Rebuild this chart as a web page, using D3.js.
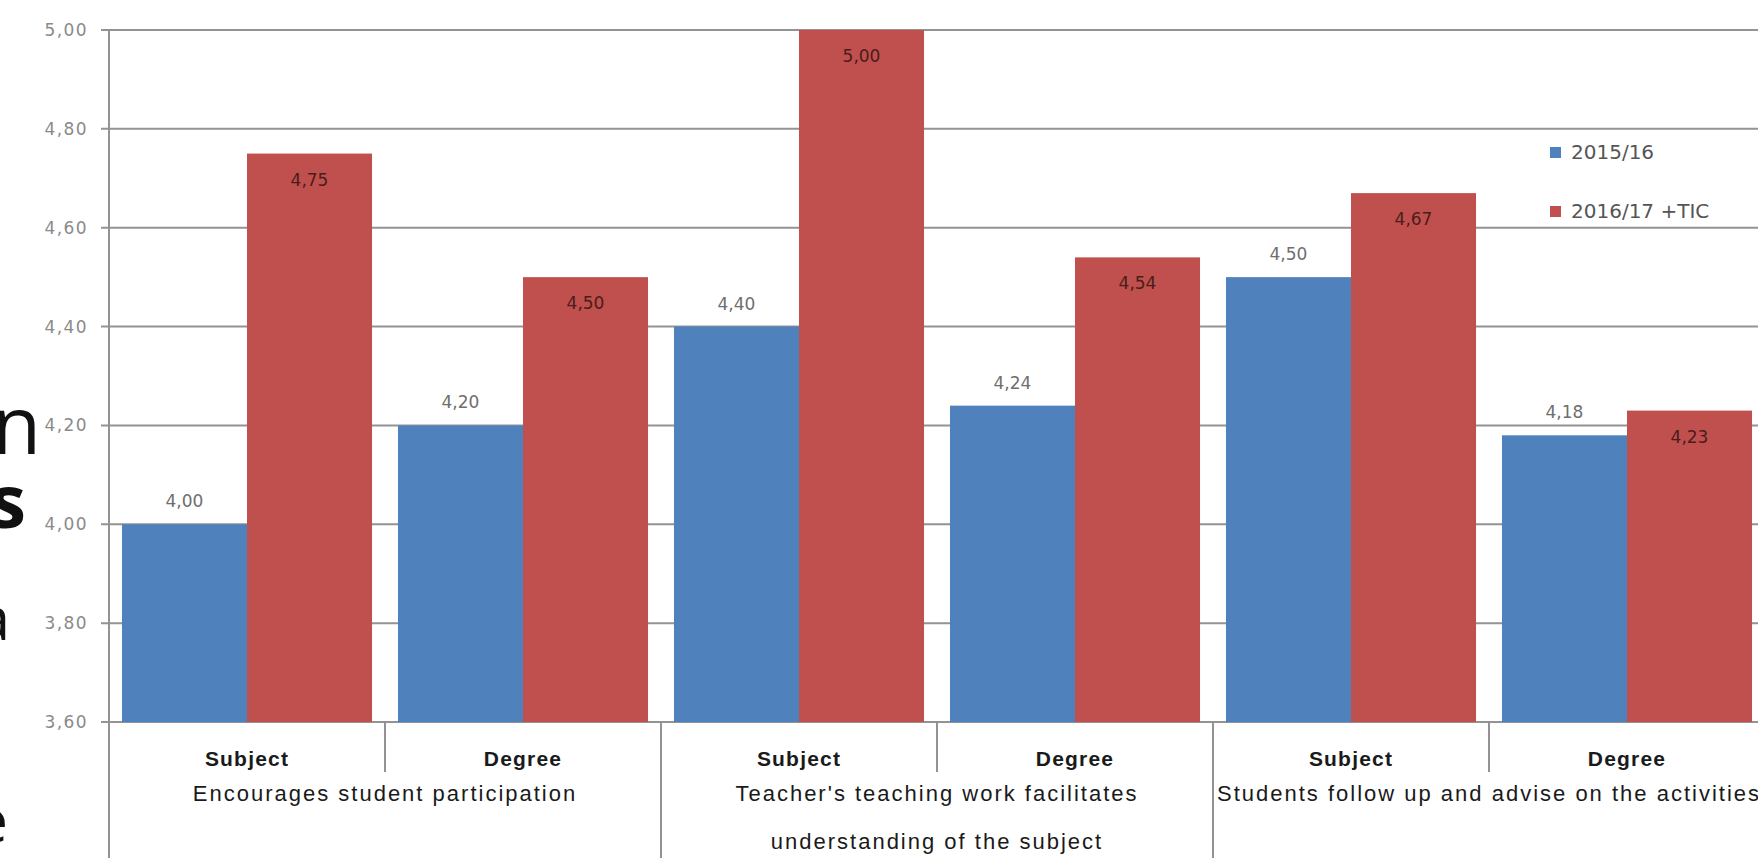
<!DOCTYPE html>
<html>
<head>
<meta charset="utf-8">
<script src="https://cdn.jsdelivr.net/npm/d3@7"></script>
<style>
  html, body { margin: 0; padding: 0; background: #fff; overflow: hidden; }
  svg { display: block; }
</style>
</head>
<body>
<svg id="chart" width="1758" height="858"></svg>
<script>
// ---------- data ----------
const groupLabels = [
  ["Encourages student participation"],
  ["Teacher's teaching work facilitates", "understanding of the subject"],
  ["Students follow up and advise on the activities"]
];
const subLabels = ["Subject", "Degree", "Subject", "Degree", "Subject", "Degree"];
const seriesNames = ["2015/16", "2016/17 +TIC"];
const values1516 = [4.00, 4.20, 4.40, 4.24, 4.50, 4.18];
const values1617 = [4.75, 4.50, 5.00, 4.54, 4.67, 4.23];
const yTicks = [3.6, 3.8, 4.0, 4.2, 4.4, 4.6, 4.8, 5.0];
const sideLetters = ["n", "s", "a", "e"];

// ---------- setup ----------
const W = 1758, H = 858;
const svg = d3.select("#chart");
svg.append("rect").attr("width", W).attr("height", H).attr("fill", "#fff");

const axisX = 109;
const y = d3.scaleLinear().domain([3.6, 5.0]).range([722, 30]);
const idx = d3.range(subLabels.length);
const x0 = d3.scaleBand().domain(idx).range([axisX, axisX + 276 * 6])
  .paddingInner(0.094).paddingOuter(0.047);
const x1 = d3.scaleBand().domain(seriesNames).range([0, x0.bandwidth()]);
const colors = d3.scaleOrdinal().domain(seriesNames).range(["#4f81bd", "#c0504d"]);
const step = x0.step();
const fmt = v => d3.format(".2f")(v).replace(".", ",");

// side text fragments (cropped slide text at the left edge)
const sideY = [454, 528, 640, 842];
const sideX = [41, 26, 10, 8];
const sideSize = [80, 74, 60, 60];
svg.append("g").selectAll("text").data(sideLetters).join("text")
  .attr("x", (d, i) => sideX[i]).attr("y", (d, i) => sideY[i])
  .attr("text-anchor", "end")
  .attr("font-family", "Open Sans, sans-serif")
  .attr("font-size", (d, i) => sideSize[i])
  .attr("font-weight", (d, i) => i === 1 ? 700 : 400)
  .attr("fill", "#111")
  .text(d => d);

// gridlines + ticks
const grid = svg.append("g");
grid.selectAll("line").data(yTicks).join("line")
  .attr("x1", axisX - 8).attr("x2", W)
  .attr("y1", d => y(d)).attr("y2", d => y(d))
  .attr("stroke", "#939393").attr("stroke-width", 2);

// y axis labels
const yAxis = d3.axisLeft(y).tickValues(yTicks).tickFormat(fmt).tickSize(0).tickPadding(21);
const ya = svg.append("g").attr("transform", `translate(${axisX},0)`).call(yAxis);
ya.select(".domain").remove();
ya.selectAll("text")
  .attr("font-family", "DejaVu Sans, sans-serif")
  .attr("font-size", 17).attr("letter-spacing", 1.4)
  .attr("fill", "#8a8a8a");

// bars
const rows = idx.map(i => ({ i, vals: [values1516[i], values1617[i]] }));
const bg = svg.append("g").selectAll("g").data(rows).join("g")
  .attr("transform", d => `translate(${x0(d.i)},0)`);
bg.selectAll("rect").data(d => d.vals.map((v, k) => ({ s: seriesNames[k], v })))
  .join("rect")
  .attr("x", d => x1(d.s)).attr("width", x1.bandwidth())
  .attr("y", d => y(d.v)).attr("height", d => y(3.6) - y(d.v))
  .attr("fill", d => colors(d.s));
bg.selectAll("text").data(d => d.vals.map((v, k) => ({ s: seriesNames[k], v, k })))
  .join("text")
  .attr("x", d => x1(d.s) + x1.bandwidth() / 2)
  .attr("y", d => d.k === 0 ? y(d.v) - 17 : y(d.v) + 32)
  .attr("text-anchor", "middle")
  .attr("font-family", "DejaVu Sans, sans-serif")
  .attr("font-size", 17)
  .attr("fill", d => d.k === 0 ? "#6e6e6e" : "#4a1c1c")
  .text(d => fmt(d.v));

// axis line and category separators
svg.append("line").attr("x1", axisX).attr("x2", axisX).attr("y1", y(5.0)).attr("y2", H)
  .attr("stroke", "#939393").attr("stroke-width", 2);
const seps = d3.range(1, 6);
svg.append("g").selectAll("line").data(seps).join("line")
  .attr("x1", d => axisX + d * step).attr("x2", d => axisX + d * step)
  .attr("y1", y(3.6)).attr("y2", d => d % 2 === 0 ? H : 772)
  .attr("stroke", "#939393").attr("stroke-width", 2);

// sub labels
svg.append("g").selectAll("text").data(subLabels).join("text")
  .attr("x", (d, i) => x0(i) + x0.bandwidth() / 2)
  .attr("y", 766)
  .attr("text-anchor", "middle")
  .attr("font-family", "Liberation Sans, Arial, sans-serif")
  .attr("font-weight", 700).attr("font-size", 21).attr("letter-spacing", 1.2)
  .attr("fill", "#1a1a1a")
  .text(d => d);

// group labels
const gl = svg.append("g").selectAll("text").data(groupLabels).join("text")
  .attr("text-anchor", "middle")
  .attr("font-family", "Liberation Sans, Arial, sans-serif")
  .attr("font-size", 22).attr("letter-spacing", 2)
  .attr("fill", "#1a1a1a");
gl.selectAll("tspan").data((d, g) => d.map((t, l) => ({ t, l, g }))).join("tspan")
  .attr("x", d => axisX + step * (2 * d.g + 1))
  .attr("y", d => 801 + d.l * 48)
  .text(d => d.t);

// legend
const lg = svg.append("g").attr("transform", "translate(1550,0)");
const li = lg.selectAll("g").data(seriesNames).join("g")
  .attr("transform", (d, i) => `translate(0,${152 + i * 59})`);
li.append("rect").attr("x", 0).attr("y", -5).attr("width", 11).attr("height", 11)
  .attr("fill", d => colors(d));
li.append("text").attr("x", 21).attr("y", 7)
  .attr("font-family", "DejaVu Sans, sans-serif")
  .attr("font-size", 20)
  .attr("fill", "#555")
  .text(d => d);
</script>
</body>
</html>
